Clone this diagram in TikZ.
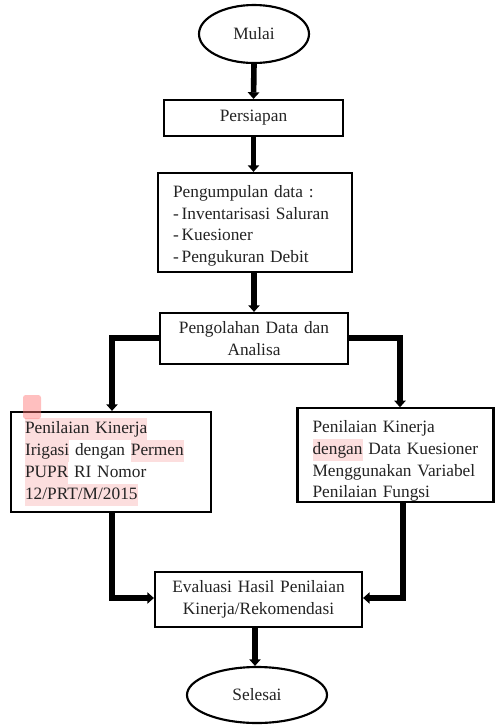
\documentclass[tikz,border=0pt]{standalone}
\usepackage{fontspec}
\setmainfont{Liberation Serif}
\usetikzlibrary{arrows.meta,shapes.geometric}
\definecolor{hlpink}{RGB}{252,222,222}
\definecolor{txt}{RGB}{35,35,35}
\newcommand{\hlw}[1]{{\setlength{\fboxsep}{0pt}\colorbox{hlpink}{\strut #1}}}
\begin{document}
\begin{tikzpicture}[x=0.75pt,y=-0.75pt,
  every node/.style={font=\fontsize{13}{16.4}\selectfont, text=txt},
  boxnode/.style={draw=black, line width=1.6pt, rectangle, inner sep=0pt},
  ovalnode/.style={draw=black, line width=1.6pt, ellipse, inner sep=0pt},
  flow/.style={line width=4.2pt, -{Triangle[length=5pt,width=8.5pt]}}]
\useasboundingbox (0,0) rectangle (495,725);
\fill[white] (0,0) rectangle (495,725);

\node[ovalnode, minimum width=82.5pt, minimum height=43.5pt] (mulai) at (254,34) {Mulai};
\node[boxnode, minimum width=134.25pt, minimum height=27pt] (persiapan) at (253.5,118) {Persiapan};
\node[boxnode, minimum width=145.5pt, minimum height=74.25pt, text width=123pt, align=left] (kumpul) at (255,222.5)
  {\rule{0pt}{14pt}Pengumpulan data :\\-\,Inventarisasi Saluran\\-\,Kuesioner\\-\,Pengukuran Debit};
\node[boxnode, minimum width=141pt, minimum height=38.25pt, text width=135pt, align=center] (olah) at (254,338.5)
  {Pengolahan Data dan\\Analisa};
\node[boxnode, minimum width=150pt, minimum height=75pt, text width=129pt, align=left] (kiri) at (111,462)
  {\hlw{Penilaian Kinerja}\\\hlw{Irigasi} dengan \hlw{Permen}\\\hlw{PUPR} RI Nomor\\\hlw{12/PRT/M/2015}};
\node[boxnode, minimum width=147pt, minimum height=66.75pt, text width=124.5pt, align=left] (kanan) at (395.5,455)
  {\rule{0pt}{18pt}Penilaian Kinerja\\\hlw{dengan} Data Kuesioner\\Menggunakan Variabel\\Penilaian Fungsi};
\node[boxnode, minimum width=155.25pt, minimum height=41.25pt, text width=150pt, align=center] (eval) at (258.5,599.5)
  {Evaluasi Hasil Penilaian\\Kinerja/Rekomendasi};
\node[ovalnode, minimum width=105pt, minimum height=42pt] (selesai) at (257,695) {Selesai};

% comment marker
\fill[red!55!white, opacity=0.45, rounded corners=2pt] (23,395) rectangle (41,419);

\draw[flow] (mulai.south) -- (persiapan.north);
\draw[flow] (persiapan.south) -- (kumpul.north -| persiapan.south);
\draw[flow] (kumpul.south -| olah.north) -- (olah.north);
\draw[flow] (olah.west |- 0,338) -| (kiri.north -| 112,0);
\draw[flow] (olah.east |- 0,338) -| (kanan.north -| 400,0);
\draw[flow] (kiri.south -| 112,0) |- (eval.west |- 0,598);
\draw[flow] (kanan.south -| 403,0) |- (eval.east |- 0,598);
\draw[flow] (eval.south -| 255,0) -- (selesai.north -| 255,0);
\end{tikzpicture}
\end{document}
